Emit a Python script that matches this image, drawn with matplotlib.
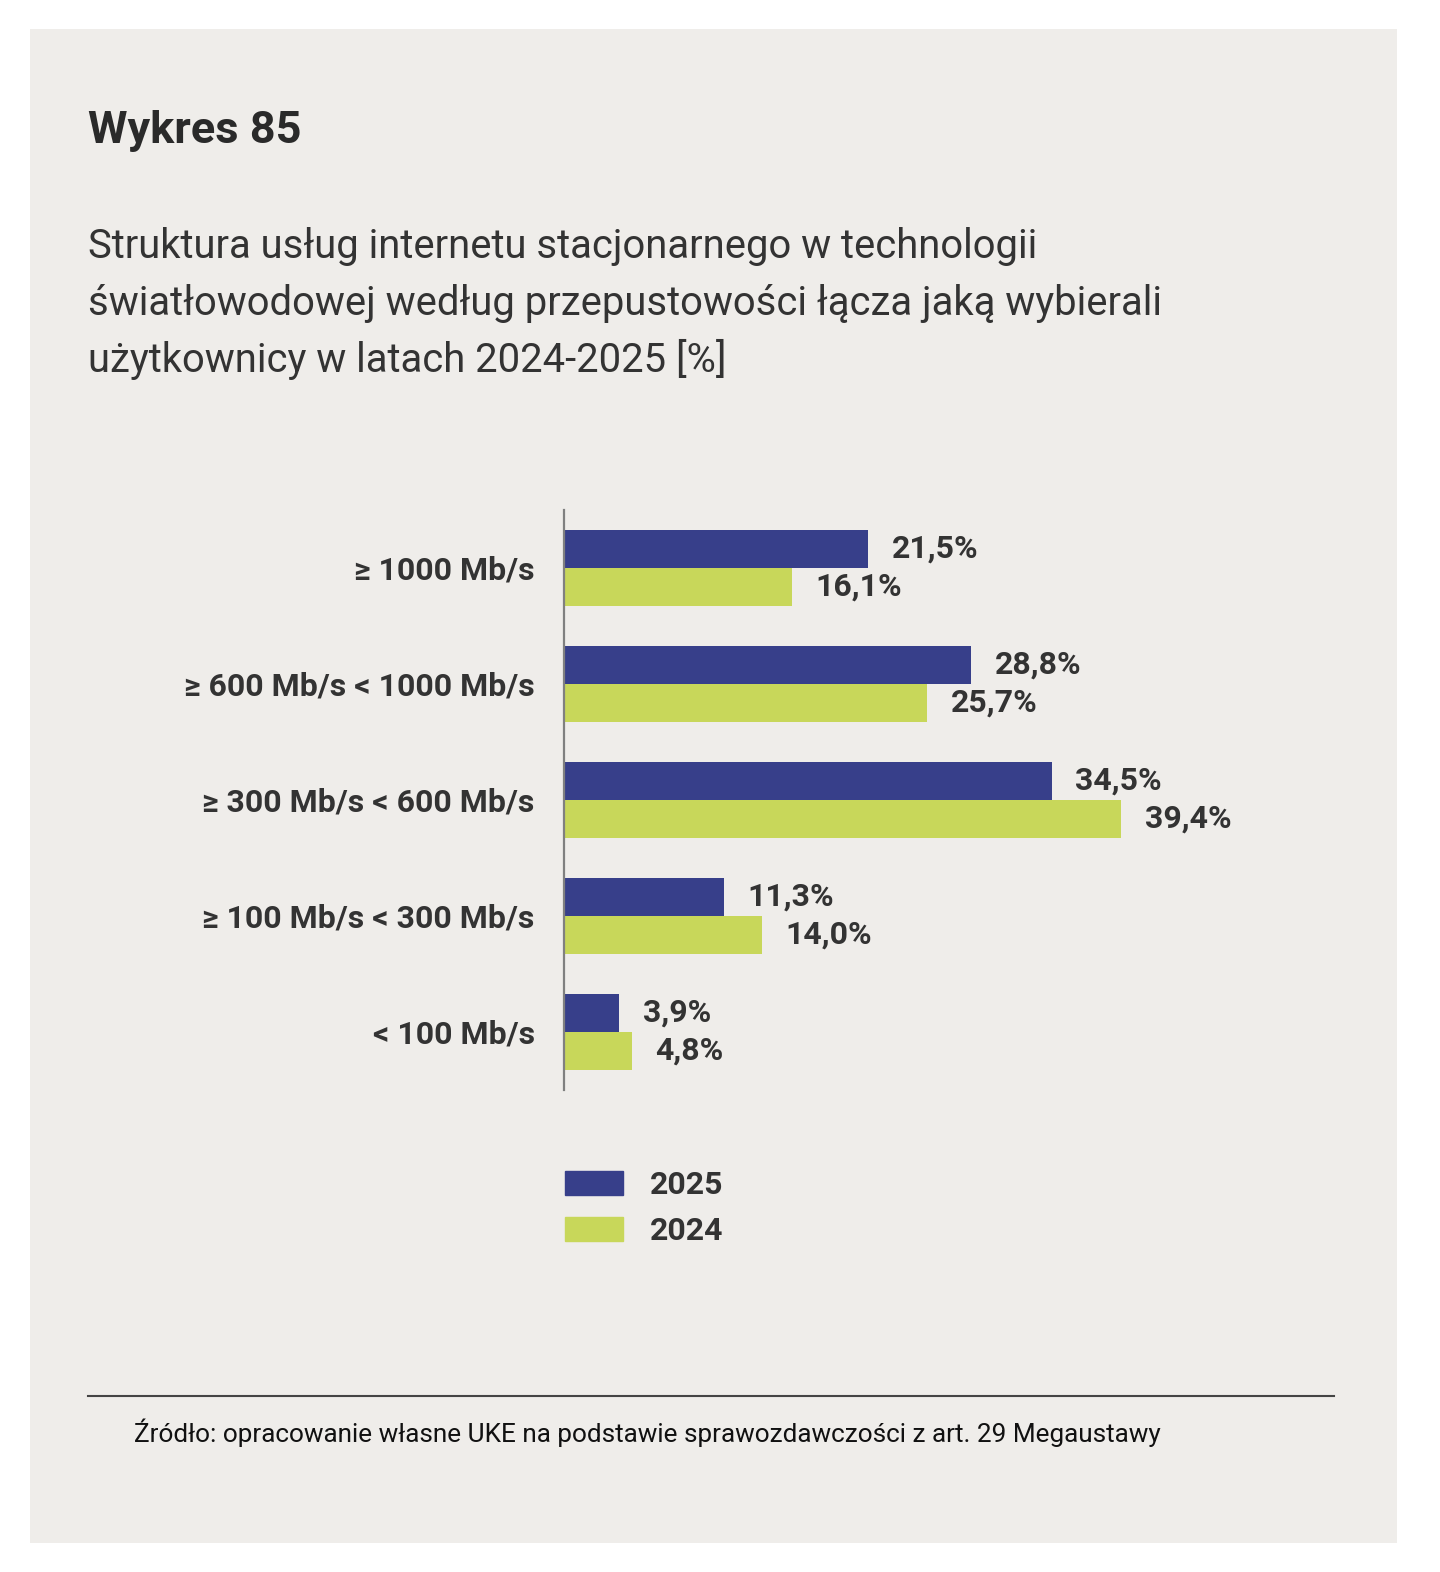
import matplotlib.pyplot as plt
from matplotlib.patches import Rectangle, Patch
from matplotlib.lines import Line2D

plt.rcParams['font.family'] = ['Roboto', 'DejaVu Sans']

categories = ['≥ 1000 Mb/s', '≥ 600 Mb/s < 1000 Mb/s', '≥ 300 Mb/s < 600 Mb/s',
              '≥ 100 Mb/s < 300 Mb/s', '< 100 Mb/s']
values_2025 = [21.5, 28.8, 34.5, 11.3, 3.9]
values_2024 = [16.1, 25.7, 39.4, 14.0, 4.8]
series_labels = ['2025', '2024']

navy = '#373f8a'
lime = '#c8d75a'
txt = '#333333'

W, H = 1440, 1572
fig = plt.figure(figsize=(W / 100, H / 100), dpi=100)
fig.patch.set_facecolor('white')

def fx(px):
    return px / W

def fy(py):
    return 1 - py / H

# paper panel
fig.patches.append(Rectangle((fx(30), fy(1543)), fx(1367), 1514 / H,
                             transform=fig.transFigure, facecolor='#efedea',
                             edgecolor='none', zorder=-5))

fig.text(fx(88), fy(143), 'Wykres 85', fontsize=32.5, fontweight='bold',
         color='#2a2a2a', va='baseline')
subtitle = ['Struktura usług internetu stacjonarnego w technologii',
            'światłowodowej według przepustowości łącza jaką wybierali',
            'użytkownicy w latach 2024-2025 [%]']
for i, line in enumerate(subtitle):
    fig.text(fx(88), fy(258 + 57 * i), line, fontsize=28.8, color=txt, va='baseline')

ax = fig.add_axes([fx(564), fy(1090), fx(700), 580 / H])
ax.set_zorder(2)
ax.set_facecolor('none')

y = list(range(len(categories)))
h = 0.328
ax.barh([i - h / 2 for i in y], values_2025, height=h, color=navy, label=series_labels[0])
ax.barh([i + h / 2 for i in y], values_2024, height=h, color=lime, label=series_labels[1])

for i in y:
    for v, off in ((values_2025[i], -h / 2), (values_2024[i], h / 2)):
        ax.annotate(f'{v:.1f}%'.replace('.', ','), (v, i + off), xytext=(17, 0),
                    textcoords='offset points', va='center', ha='left',
                    fontsize=23, fontweight='bold', color=txt)

ax.set_xlim(0, 700 / 14.14)
ax.set_ylim(len(categories) - 0.5, -0.5)
ax.set_yticks(y)
ax.set_yticklabels(categories, fontsize=23, fontweight='bold', color=txt)
ax.tick_params(axis='y', length=0, pad=21)
ax.set_xticks([])
for s in ['top', 'right', 'bottom']:
    ax.spines[s].set_visible(False)
ax.spines['left'].set_color('#808080')
ax.spines['left'].set_linewidth(1.6)

handles = [Patch(color=navy), Patch(color=lime)]
leg = fig.legend(handles, series_labels, loc='upper left',
                 bbox_to_anchor=(fx(543), fy(1148)), frameon=False,
                 prop={'weight': 'bold', 'size': 23},
                 handlelength=1.8, handleheight=0.78, handletextpad=0.85,
                 labelspacing=0.48, borderpad=0.2)
for t in leg.get_texts():
    t.set_color(txt)

fig.add_artist(Line2D([fx(88), fx(1334)], [fy(1396), fy(1396)],
                      transform=fig.transFigure, color='#444444', linewidth=1.5))
fig.text(fx(134), fy(1442),
         'Źródło: opracowanie własne UKE na podstawie sprawozdawczości z art. 29 Megaustawy',
         fontsize=18.8, color='#111111', va='baseline')

fig.savefig('out.png', dpi=100)
